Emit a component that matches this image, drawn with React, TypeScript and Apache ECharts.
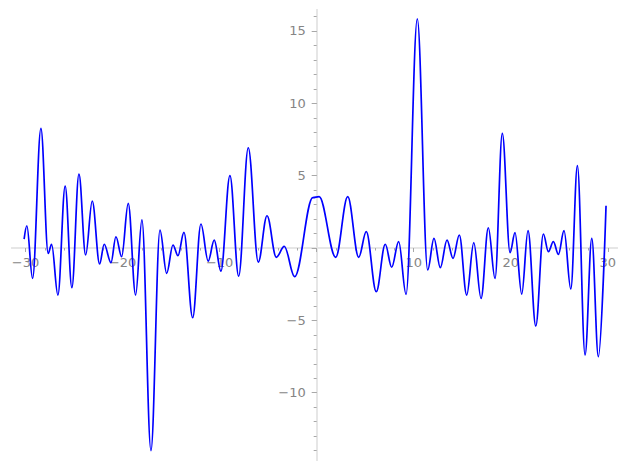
import React, { useEffect, useRef } from "react";
import * as echarts from "echarts";

// Local extrema of the plotted curve (x, y)
const curveX = [
  -30.15, -29.87, -29.28, -28.42, -27.67, -27.32, -26.67, -25.92, -25.23, -24.5,
  -23.81, -23.13, -22.37, -21.9, -21.2, -20.69, -20.1, -19.42, -18.66, -18.01,
  -17.08, -16.15, -15.46, -14.81, -14.3, -13.68, -12.78, -11.93, -11.18, -10.56,
  -9.87, -8.94, -8.04, -7.05, -6.02, -5.12, -4.16, -3.34, -2.27, -0.4,
  0.25, 1.96, 3.2, 4.33, 5.11, 6.14, 7.07, 7.73, 8.45, 9.21,
  10.37, 11.44, 12.09, 12.74, 13.43, 14.05, 14.7, 15.46, 16.19, 16.94,
  17.69, 18.38, 19.13, 19.93, 20.44, 21.13, 21.78, 22.58, 23.36, 23.88,
  24.39, 24.91, 25.49, 26.19, 26.87, 27.66, 28.35, 29.03, 29.82,
];
const curveY = [
  0.62, 1.54, -2.1, 8.27, -0.37, 0.26, -3.25, 4.28, -2.74, 5.11,
  -0.48, 3.25, -1.1, 0.26, -1.01, 0.78, -0.6, 3.09, -3.25, 1.94,
  -14.0, 1.24, -1.75, 0.21, -0.53, 1.08, -4.82, 1.66, -0.9, 0.55,
  -1.59, 5.0, -1.94, 6.93, -0.97, 2.23, -0.64, 0.12, -1.98, 3.48,
  3.55, -0.64, 3.55, -0.64, 1.13, -3.02, 0.26, -1.33, 0.44, -3.2,
  15.83, -1.52, 0.67, -1.36, 0.55, -0.71, 0.9, -3.25, 0.37, -3.48,
  1.4, -2.1, 7.93, -0.32, 1.06, -3.18, 1.2, -5.39, 0.97, -0.25,
  0.44, -0.44, 1.2, -2.83, 5.69, -7.39, 0.67, -7.51, 2.92,
];

const xTickLabels = [-30, -20, -10, 10, 20, 30];
const xMajorTicks = [-30, -20, -10, 0, 10, 20, 30];
const xMinorTicks = [
  -30, -28, -26, -24, -22, -20, -18, -16, -14, -12, -10, -8, -6, -4, -2, 0,
  2, 4, 6, 8, 10, 12, 14, 16, 18, 20, 22, 24, 26, 28, 30,
];
const yTickLabels = [-10, -5, 5, 10, 15];
const yMajorTicks = [-10, -5, 0, 5, 10, 15];
const yMinorTicks = [
  -14, -13, -12, -11, -10, -9, -8, -7, -6, -5, -4, -3, -2, -1, 0, 1, 2, 3, 4,
  5, 6, 7, 8, 9, 10, 11, 12, 13, 14, 15, 16,
];

const X_MIN = -31.4;
const X_MAX = 30.95;
const Y_MIN = -14.65;
const Y_MAX = 16.45;

const W = 627;
const H = 470;
const G_LEFT = 12;
const G_RIGHT = 10;
const G_TOP = 10;
const G_BOTTOM = 10;

// place the axes through the origin (crossing at x = 0, y = 0)
const plotW = W - G_LEFT - G_RIGHT;
const plotH = H - G_TOP - G_BOTTOM;
const yAxisOffset = -((0 - X_MIN) / (X_MAX - X_MIN)) * plotW;
const xAxisOffset = -((0 - Y_MIN) / (Y_MAX - Y_MIN)) * plotH;

const AXIS_LINE = "#e6e6e6";
const TICK = "#a8a8a8";
const LABEL = "#858585";

const fmt = (v: number) => (v < 0 ? "\u2212" + Math.abs(v) : String(v));

export default function App() {
  const ref = useRef<HTMLDivElement>(null);
  useEffect(() => {
    if (!ref.current) return;
    const chart = echarts.init(ref.current, undefined, { renderer: "svg" });
    const data = curveX.map((x, i) => [x, curveY[i]]);
    const labelStyle = {
      color: LABEL,
      fontSize: 13,
      fontFamily: "DejaVu Sans",
    };
    const line = { show: true, onZero: false, lineStyle: { color: AXIS_LINE, width: 2 } };
    chart.setOption({
      animation: false,
      grid: { left: G_LEFT, right: G_RIGHT, top: G_TOP, bottom: G_BOTTOM, containLabel: false, outerBoundsMode: "none" },
      xAxis: [
        {
          type: "value",
          min: X_MIN,
          max: X_MAX,
          position: "bottom",
          offset: xAxisOffset,
          axisLine: line,
          axisTick: { show: true, customValues: xMajorTicks, length: 4, lineStyle: { color: TICK, width: 1 } },
          axisLabel: { show: true, customValues: xTickLabels, formatter: fmt, margin: 8, ...labelStyle },
          splitLine: { show: false },
        },
        {
          type: "value",
          min: X_MIN,
          max: X_MAX,
          position: "bottom",
          offset: xAxisOffset,
          axisLine: line,
          axisTick: { show: true, customValues: xMinorTicks, length: 2.5, lineStyle: { color: TICK, width: 1 } },
          axisLabel: { show: false },
          splitLine: { show: false },
        },
      ],
      yAxis: [
        {
          type: "value",
          min: Y_MIN,
          max: Y_MAX,
          position: "left",
          offset: yAxisOffset,
          axisLine: line,
          axisTick: { show: true, customValues: yMajorTicks, length: 5, lineStyle: { color: TICK, width: 1 } },
          axisLabel: { show: true, customValues: yTickLabels, formatter: fmt, margin: 11, ...labelStyle },
          splitLine: { show: false },
        },
        {
          type: "value",
          min: Y_MIN,
          max: Y_MAX,
          position: "left",
          offset: yAxisOffset,
          axisLine: line,
          axisTick: { show: true, customValues: yMinorTicks, length: 3, lineStyle: { color: TICK, width: 1 } },
          axisLabel: { show: false },
          splitLine: { show: false },
        },
      ],
      series: [
        {
          type: "line",
          xAxisIndex: 0,
          yAxisIndex: 0,
          data,
          showSymbol: false,
          symbol: "none",
          smooth: 0.36,
          smoothMonotone: "x",
          lineStyle: { color: "#0000ff", width: 1.7 },
          z: 5,
        },
      ],
    });
    return () => chart.dispose();
  }, []);
  return <div ref={ref} style={{ width: W, height: H, position: "absolute", left: 0, top: 0 }} />;
}
